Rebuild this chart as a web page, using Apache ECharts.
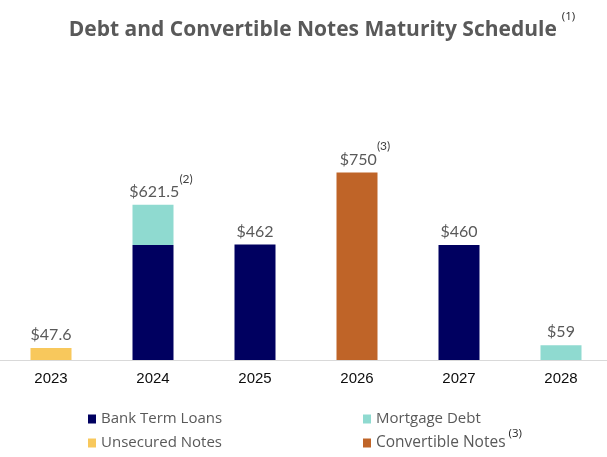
<!DOCTYPE html>
<html>
<head>
<meta charset="utf-8">
<script src="https://cdn.jsdelivr.net/npm/echarts@6/dist/echarts.min.js"></script>
<style>
html,body{margin:0;padding:0;background:#fff;overflow:hidden;}
#chart{width:612px;height:457px;}
</style>
</head>
<body>
<div id="chart"></div>
<script>
const titleText = 'Debt and Convertible Notes Maturity Schedule';
const titleNote = '(1)';
const categories = ['2023', '2024', '2025', '2026', '2027', '2028'];
const bankTermLoans = [null, 460, 462, null, 460, null];
const mortgageDebt = [null, 161.5, null, null, null, 59];
const unsecuredNotes = [47.6, null, null, null, null, null];
const convertibleNotes = [null, null, null, 750, null, null];
const totalNotes = ['', '(2)', '', '(3)', '', ''];
const seriesNames = ['Bank Term Loans', 'Mortgage Debt', 'Unsecured Notes', 'Convertible Notes'];
const legendNotes = ['', '', '', '(3)'];

const colors = ['#000060', '#8fdad0', '#f8c85c', '#bf6428'];
const font = 'Lato, "Open Sans", sans-serif';
const font2 = '"Open Sans", Lato, sans-serif';
const seriesData = [bankTermLoans, mortgageDebt, unsecuredNotes, convertibleNotes];

const totals = categories.map((c, i) => {
  let s = 0;
  seriesData.forEach(arr => { if (arr[i] != null) s += arr[i]; });
  return Math.round(s * 10) / 10;
});

const chart = echarts.init(document.getElementById('chart'), null, {renderer: 'canvas'});

const barSeries = seriesNames.map((name, k) => ({
  name: name,
  type: 'bar',
  stack: 'total',
  barWidth: 41,
  itemStyle: {color: colors[k]},
  data: seriesData[k]
}));

barSeries.push({
  name: 'total',
  type: 'bar',
  stack: 'total',
  barWidth: 41,
  silent: true,
  itemStyle: {color: 'rgba(0,0,0,0)'},
  data: totals.map((t, i) => ({
    value: 0,
    label: {offset: [totalNotes[i] ? 8 : 0, 0]}
  })),
  label: {
    show: true,
    position: 'top',
    distance: -6,
    formatter: p => {
      const i = p.dataIndex;
      return '{m|$' + totals[i] + '}' + (totalNotes[i] ? '{s|' + totalNotes[i] + '}' : '');
    },
    rich: {
      m: {fontSize: 16, color: '#595959', fontFamily: font, lineHeight: 38},
      s: {fontSize: 12, color: '#404040', fontFamily: font, lineHeight: 12, verticalAlign: 'top', padding: [0, 0, 0, 0]}
    }
  }
});

const legendPos = [
  {left: 88, cy: 419},
  {left: 363, cy: 419},
  {left: 88, cy: 443},
  {left: 363, cy: 443}
];

const legends = seriesNames.map((name, k) => {
  const hasNote = !!legendNotes[k];
  const h = hasNote ? 30 : 20;
  return {
    data: [name],
    left: legendPos[k].left,
    top: legendPos[k].cy - h / 2,
    padding: 0,
    icon: 'rect',
    itemWidth: 8,
    itemHeight: 9,
    itemGap: 5,
    selectedMode: false,
    formatter: n => hasNote ? '{m|' + n + '}{s|' + legendNotes[k] + '}' : n,
    textStyle: {
      color: '#595959',
      fontSize: 15,
      fontFamily: font2,
      lineHeight: 20,
      rich: {
        m: {fontSize: 15.5, color: '#595959', fontFamily: font2, lineHeight: 30},
        s: {fontSize: 11.5, color: '#262626', fontFamily: font2, lineHeight: 12, verticalAlign: 'top', padding: [0, 0, 0, 3]}
      }
    }
  };
});

chart.setOption({
  animation: false,
  backgroundColor: '#ffffff',
  title: {
    text: '{t|' + titleText + '}{s|' + titleNote + '}',
    left: 322,
    top: 10.5,
    padding: 0,
    textAlign: 'center',
    textStyle: {
      rich: {
        t: {fontSize: 21, fontWeight: 'bold', color: '#595959', fontFamily: font2, lineHeight: 40},
        s: {fontSize: 11.5, fontWeight: 'normal', color: '#262626', fontFamily: font2, lineHeight: 12, verticalAlign: 'top', padding: [0, 0, 0, 5]}
      }
    }
  },
  legend: legends,
  grid: {left: 0, right: 0, top: 110, bottom: 97, containLabel: false},
  xAxis: {
    type: 'category',
    data: categories,
    axisTick: {show: false},
    axisLine: {lineStyle: {color: '#d9d9d9', width: 1}},
    axisLabel: {color: '#0d0d0d', fontSize: 15, fontFamily: '"Liberation Sans", Arial, sans-serif', margin: 11}
  },
  yAxis: {
    type: 'value',
    min: 0,
    max: 1000,
    show: false,
    splitLine: {show: false}
  },
  series: barSeries
});
</script>
</body>
</html>
